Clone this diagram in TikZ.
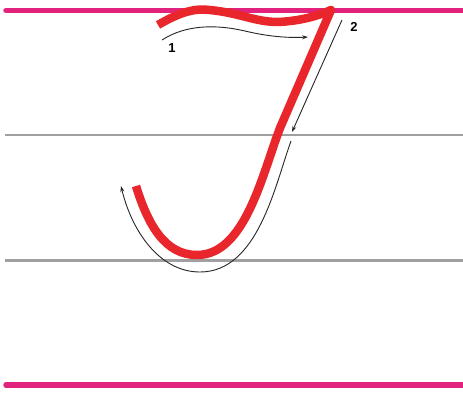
\documentclass[tikz,border=0pt]{standalone}
\usepackage{fontspec}
\setmainfont{Liberation Sans}
\usetikzlibrary{arrows.meta}
\definecolor{ruleMag}{HTML}{E2237E}
\definecolor{ruleGray}{HTML}{A0A0A0}
\definecolor{inkRed}{HTML}{E8262B}
\tikzset{
  magline/.style={draw=ruleMag,line width=5.5pt,line cap=round},
  grayline/.style={draw=ruleGray,line width=2.5pt},
  redstroke/.style={draw=inkRed,line width=8.5pt,line join=round},
  guide/.style={draw=black!85,line width=0.9pt,-{Stealth[length=6pt,width=4pt]}},
  numlabel/.style={font=\fontsize{13}{13}\selectfont\bfseries,inner sep=0pt}
}
\begin{document}
\begin{tikzpicture}[x=1pt,y=-1pt]
\useasboundingbox (0,0) rectangle (463,394);
\fill[white] (0,0) rectangle (463,394);
% ruling
\draw[magline] (6,10.5) -- (466,10.5);
\draw[magline] (6,385) -- (466,385);
\draw[grayline] (5,135) -- (463,135);
\draw[grayline] (5,260.5) -- (463,260.5);
% red letter
\draw[redstroke] (158,25) .. controls (180,12) and (195,8) .. (210,10)
  .. controls (240,13) and (255,22) .. (278,22)
  .. controls (300,21) and (318,16) .. (331,10)
  -- (280,128)
  .. controls (262,175) and (245,255) .. (197,255)
  .. controls (165,255) and (148,225) .. (136,186);
% guide arrows
\draw[guide] (162,40) .. controls (185,25) and (215,24) .. (245,31)
  .. controls (270,37) and (290,38) .. (308,37);
\draw[guide] (342,20) -- (292,132);
\draw[guide] (291,141) .. controls (275,185) and (258,272) .. (200,272)
  .. controls (160,272) and (132,232) .. (121,186);
% labels
\node[numlabel] (one) at (172,48) {1};
\node[numlabel] (two) at (354,27) {2};
\end{tikzpicture}
\end{document}
